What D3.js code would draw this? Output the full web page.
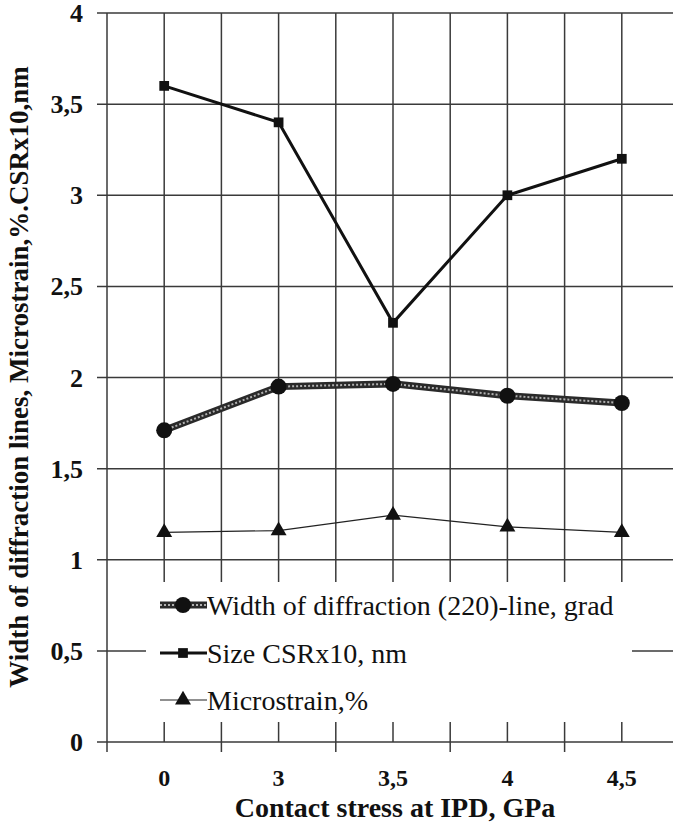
<!DOCTYPE html>
<html>
<head>
<meta charset="utf-8">
<style>
  body { margin: 0; background: white; }
  svg { display: block; }
  text { font-family: 'Liberation Serif', 'Times New Roman', serif; fill: #111; }
  .tick-label { font-size: 26px; font-weight: bold; }
  .x-tick { font-size: 24px; }
  .axis-title { font-size: 28px; font-weight: bold; }
  .legend-text { font-size: 28px; }
  .grid { stroke: #3a3a3a; stroke-width: 1.5; }
</style>
</head>
<body>
<svg width="673" height="824"></svg>
<script src="https://cdnjs.cloudflare.com/ajax/libs/d3/7.8.5/d3.min.js"></script>
<script>
var categories = ['0', '3', '3,5', '4', '4,5'];
var widthLine = [1.71, 1.95, 1.965, 1.90, 1.86];   // width of diffraction (220)-line, grad
var sizeCSR = [3.60, 3.40, 2.30, 3.00, 3.20];      // size CSR x10, nm
var microstrain = [1.15, 1.16, 1.245, 1.18, 1.15]; // microstrain, %
var yTicks = [0, 0.5, 1, 1.5, 2, 2.5, 3, 3.5, 4];
var legendLabels = ['Width of diffraction (220)-line, grad', 'Size CSRx10, nm', 'Microstrain,%'];

var plotLeft = 107, plotRight = 679, plotTop = 13, plotBottom = 742;
var svg = d3.select('svg');

var x = d3.scaleBand().domain(categories).range([plotLeft, plotRight]);
var y = d3.scaleLinear().domain([0, 4]).range([plotBottom, plotTop]);
function cx(c) { return x(c) + x.bandwidth() / 2; }
function fmt(v) { return String(v).replace('.', ','); }

// horizontal grid lines (with outer tick on the left)
svg.append('g').selectAll('line')
  .data(yTicks)
  .enter().append('line')
  .attr('class', 'grid')
  .attr('x1', plotLeft - 10).attr('x2', plotRight)
  .attr('y1', function (d) { return y(d); })
  .attr('y2', function (d) { return y(d); });

// vertical grid lines at category centres
svg.append('g').selectAll('line')
  .data(categories)
  .enter().append('line')
  .attr('class', 'grid')
  .attr('x1', cx).attr('x2', cx)
  .attr('y1', plotTop).attr('y2', plotBottom);

// vertical grid lines at category boundaries, ticks hanging below the axis
var bounds = categories.map(function (c) { return x(c); }).concat([plotRight]);
svg.append('g').selectAll('line')
  .data(bounds)
  .enter().append('line')
  .attr('class', 'grid')
  .attr('x1', function (d) { return d; }).attr('x2', function (d) { return d; })
  .attr('y1', plotTop).attr('y2', plotBottom + 10);

// y tick labels
svg.append('g').selectAll('text')
  .data(yTicks)
  .enter().append('text')
  .attr('class', 'tick-label')
  .attr('x', 83)
  .attr('y', function (d) { return y(d) + 9; })
  .attr('text-anchor', 'end')
  .text(fmt);

// x tick labels
svg.append('g').selectAll('text')
  .data(categories)
  .enter().append('text')
  .attr('class', 'tick-label x-tick')
  .attr('x', cx)
  .attr('y', 786)
  .attr('text-anchor', 'middle')
  .text(function (d) { return d; });

svg.append('text')
  .attr('class', 'axis-title')
  .attr('x', 395).attr('y', 817)
  .attr('text-anchor', 'middle')
  .text('Contact stress at IPD, GPa');

svg.append('text')
  .attr('class', 'axis-title')
  .attr('transform', 'translate(28,377) rotate(-90)')
  .attr('text-anchor', 'middle')
  .style('font-size', '27px')
  .text('Width of diffraction lines, Microstrain,%.CSRx10,nm');

// series
var line = d3.line()
  .x(function (d, i) { return cx(categories[i]); })
  .y(function (d) { return y(d); });

function texturedLine(g, path) {
  g.append('path').attr('d', path).attr('fill', 'none')
    .attr('stroke', '#2a2a2a').attr('stroke-width', 7);
  g.append('path').attr('d', path).attr('fill', 'none')
    .attr('stroke', '#b0b0b0').attr('stroke-width', 2)
    .attr('stroke-dasharray', '2,2');
}

var s1 = svg.append('g');
texturedLine(s1, line(widthLine));
s1.selectAll('circle')
  .data(widthLine)
  .enter().append('circle')
  .attr('cx', function (d, i) { return cx(categories[i]); })
  .attr('cy', function (d) { return y(d); })
  .attr('r', 8)
  .attr('fill', '#111');

var s2 = svg.append('g');
s2.append('path').attr('d', line(sizeCSR)).attr('fill', 'none')
  .attr('stroke', '#111').attr('stroke-width', 3);
s2.selectAll('path.m')
  .data(sizeCSR)
  .enter().append('path')
  .attr('class', 'm')
  .attr('d', d3.symbol(d3.symbolSquare, 95))
  .attr('transform', function (d, i) { return 'translate(' + cx(categories[i]) + ',' + y(d) + ')'; })
  .attr('fill', '#111');

var s3 = svg.append('g');
s3.append('path').attr('d', line(microstrain)).attr('fill', 'none')
  .attr('stroke', '#222').attr('stroke-width', 1.2);
s3.selectAll('path.m')
  .data(microstrain)
  .enter().append('path')
  .attr('class', 'm')
  .attr('d', d3.symbol(d3.symbolTriangle, 110))
  .attr('transform', function (d, i) { return 'translate(' + cx(categories[i]) + ',' + y(d) + ')'; })
  .attr('fill', '#111');

// legend
var legend = svg.append('g');
legend.append('rect')
  .attr('x', 146).attr('y', 582)
  .attr('width', 486).attr('height', 140)
  .attr('fill', 'white');

var legendY = [605, 653, 700];
legendLabels.forEach(function (label, i) {
  var g = legend.append('g');
  var ly = legendY[i];
  var seg = 'M160,' + ly + 'L207,' + ly;
  if (i === 0) {
    texturedLine(g, seg);
    g.append('circle').attr('cx', 183).attr('cy', ly).attr('r', 8).attr('fill', '#111');
  } else if (i === 1) {
    g.append('path').attr('d', seg).attr('stroke', '#111').attr('stroke-width', 3);
    g.append('path').attr('d', d3.symbol(d3.symbolSquare, 95))
      .attr('transform', 'translate(183,' + ly + ')').attr('fill', '#111');
  } else {
    g.append('path').attr('d', seg).attr('stroke', '#222').attr('stroke-width', 1.2);
    g.append('path').attr('d', d3.symbol(d3.symbolTriangle, 110))
      .attr('transform', 'translate(183,' + ly + ')').attr('fill', '#111');
  }
  g.append('text')
    .attr('class', 'legend-text')
    .attr('x', 207).attr('y', ly + 10)
    .text(label);
});
</script>
</body>
</html>
